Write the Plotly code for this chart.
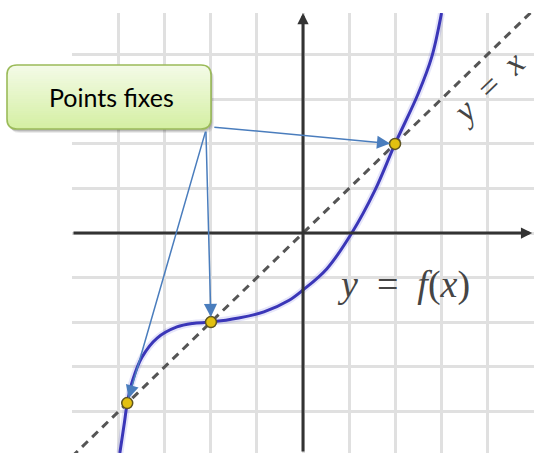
import plotly.graph_objects as go

# Curve y = f(x), sampled along its path
curve_x = [-3.98, -3.88, -3.82, -3.70, -3.50, -3.17, -2.74, -2.40, -2.00, -1.40,
           -0.85, -0.30, 0.00, 0.52, 1.06, 1.56, 2.00, 2.50, 2.80, 3.01]
curve_y = [-4.94, -4.25, -3.82, -3.30, -2.79, -2.36, -2.11, -2.03, -2.00, -1.91,
           -1.77, -1.51, -1.28, -0.80, 0.00, 0.95, 2.00, 3.12, 3.96, 4.94]

# Fixed points: f(x) = x
fixed_x = [-3.82, -2.00, 2.00]
fixed_y = [-3.82, -2.00, 2.00]

# Bisector y = x
diag_x = [-5.02, 5.02]
diag_y = [-5.02, 5.02]

grid_ticks = [-4, -3, -2, -1, 0, 1, 2, 3, 4]

callout_text = "Points fixes"
SP = "\u2002"
label_diag = f"<i>y</i>{SP}={SP}<i>x</i>"
label_curve = f"<i>y</i>{SP}={SP}<i>f</i>(<i>x</i>)"

W, H = 534, 453
ML, MT = 72, 13
PW, PH = W - ML, H - MT


def to_paper(px, py):
    return (px - ML) / PW, (H - py) / PH


def pt(px, py):
    a, b = to_paper(px, py)
    return f"{a:.5f},{b:.5f}"


def rounded_path(x0, y0, x1, y1, r):
    return (f"M {pt(x0 + r, y0)} L {pt(x1 - r, y0)} Q {pt(x1, y0)} {pt(x1, y0 + r)} "
            f"L {pt(x1, y1 - r)} Q {pt(x1, y1)} {pt(x1 - r, y1)} "
            f"L {pt(x0 + r, y1)} Q {pt(x0, y1)} {pt(x0, y1 - r)} "
            f"L {pt(x0, y0 + r)} Q {pt(x0, y0)} {pt(x0 + r, y0)} Z")


fig = go.Figure()

fig.add_trace(go.Scatter(
    x=diag_x, y=diag_y, mode="lines",
    line=dict(color="#555555", width=3, dash="8px,6px"),
    hoverinfo="skip", showlegend=False))

fig.add_trace(go.Scatter(
    x=curve_x, y=curve_y, mode="lines",
    line=dict(color="rgba(110,110,230,0.18)", width=7, shape="spline", smoothing=1),
    hoverinfo="skip", showlegend=False))
fig.add_trace(go.Scatter(
    x=curve_x, y=curve_y, mode="lines",
    line=dict(color="#3a36b8", width=3, shape="spline", smoothing=1),
    showlegend=False))

fig.add_trace(go.Scatter(
    x=fixed_x, y=fixed_y, mode="markers",
    marker=dict(size=11, color="#e2c010", line=dict(color="#5e5420", width=1.5)),
    showlegend=False))

# Callout box: shadow, vertical gradient, border
bx0, by0, bx1, by1, rad = 7, 65, 211, 129, 10
shapes = []
for off, alpha in [(4, 0.08), (3, 0.10), (2, 0.12)]:
    shapes.append(dict(type="path", xref="paper", yref="paper",
                       path=rounded_path(bx0 + off - 1, by0 + off, bx1 + off - 1, by1 + off, rad),
                       fillcolor=f"rgba(0,0,0,{alpha})", line=dict(width=0), layer="above"))

top_rgb = (244, 251, 232)
bot_rgb = (212, 239, 162)


def inset(y):
    d = min(y - by0, by1 - y)
    if d >= rad:
        return 0.0
    return rad - (rad ** 2 - (rad - d) ** 2) ** 0.5


step = 2
yy = by0
while yy < by1:
    ya, yb = yy, min(yy + step + 0.6, by1)
    t = (yy + step / 2 - by0) / (by1 - by0)
    c = tuple(round(top_rgb[i] + (bot_rgb[i] - top_rgb[i]) * t) for i in range(3))
    path = (f"M {pt(bx0 + inset(ya), ya)} L {pt(bx1 - inset(ya), ya)} "
            f"L {pt(bx1 - inset(yb), yb)} L {pt(bx0 + inset(yb), yb)} Z")
    shapes.append(dict(type="path", xref="paper", yref="paper", path=path,
                       fillcolor=f"rgb{c}", line=dict(width=0), layer="above"))
    yy += step

shapes.append(dict(type="path", xref="paper", yref="paper",
                   path=rounded_path(bx0, by0, bx1, by1, rad),
                   fillcolor="rgba(0,0,0,0)", line=dict(color="#9bbb59", width=1.6),
                   layer="above"))

annotations = []

# Axes with arrowheads
annotations.append(dict(x=4.98, y=0, ax=-5.02, ay=0, xref="x", yref="y", axref="x", ayref="y",
                        text="", showarrow=True, arrowhead=2, arrowsize=0.75,
                        arrowwidth=3, arrowcolor="#333333"))
annotations.append(dict(x=0, y=4.94, ax=0, ay=-4.94, xref="x", yref="y", axref="x", ayref="y",
                        text="", showarrow=True, arrowhead=2, arrowsize=0.75,
                        arrowwidth=3, arrowcolor="#333333"))

# Curve labels
annotations.append(dict(x=4.02, y=3.26, xref="x", yref="y", text=label_diag, showarrow=False,
                        xanchor="center", yanchor="middle", textangle=-44,
                        font=dict(family="Liberation Serif", size=34, color="#454545")))
annotations.append(dict(x=2.18, y=-1.15, xref="x", yref="y", text=label_curve, showarrow=False,
                        xanchor="center", yanchor="middle",
                        font=dict(family="Liberation Serif", size=38, color="#454545")))

# Callout text
cx, cy = to_paper((bx0 + bx1) / 2 + 2, (by0 + by1) / 2)
annotations.append(dict(x=cx, y=cy, xref="paper", yref="paper", text=callout_text,
                        xanchor="center", yanchor="middle", showarrow=False,
                        font=dict(family="Lato", size=25, color="#000000")))

# Arrows from the callout to each fixed point
tails = [(-2.11, 2.31), (-2.11, 2.31), (-1.96, 2.38)]
for (tx, ty), fx, fy in zip(tails, fixed_x, fixed_y):
    annotations.append(dict(x=fx, y=fy, ax=tx, ay=ty, xref="x", yref="y", axref="x", ayref="y",
                            text="", showarrow=True, arrowhead=2, arrowsize=1.75,
                            arrowwidth=1.5, arrowcolor="#4a7dbd", standoff=5))

fig.update_layout(
    width=W, height=H,
    margin=dict(l=ML, r=0, t=MT, b=0),
    paper_bgcolor="white", plot_bgcolor="white",
    shapes=shapes, annotations=annotations,
    xaxis=dict(range=[-5.02, 5.02], tickvals=grid_ticks, showticklabels=False,
               showgrid=True, gridcolor="#e0e0e0", gridwidth=2.5, zeroline=False,
               showline=False, ticks=""),
    yaxis=dict(range=[-4.94, 4.94], tickvals=grid_ticks, showticklabels=False,
               showgrid=True, gridcolor="#e0e0e0", gridwidth=2.5, zeroline=False,
               showline=False, ticks=""),
)

fig.write_html("out.html")
